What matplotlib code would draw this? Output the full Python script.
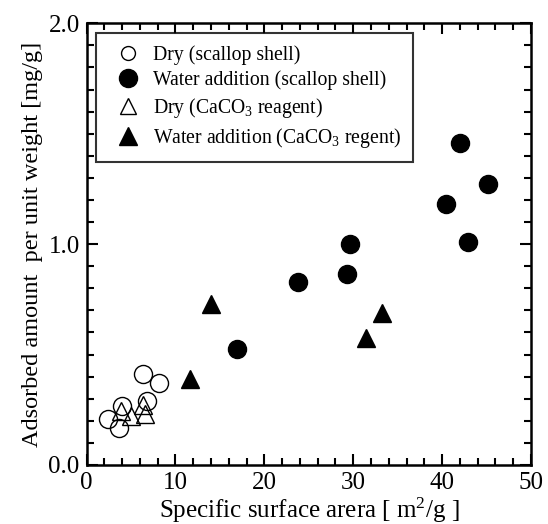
import matplotlib
matplotlib.use("Agg")
import matplotlib.pyplot as plt
from matplotlib.ticker import MultipleLocator, FormatStrFormatter

plt.rcParams['font.family'] = ['Liberation Serif', 'DejaVu Serif']
plt.rcParams['mathtext.fontset'] = 'custom'
plt.rcParams['mathtext.rm'] = 'Liberation Serif'
plt.rcParams['mathtext.it'] = 'Liberation Serif'

# 乾燥 (ホタテ貝殻)
dry_shell_x = [6.35, 8.1, 6.8, 4.0, 2.45, 3.6]
dry_shell_y = [0.41, 0.373, 0.288, 0.265, 0.208, 0.167]
# 加水 (ホタテ貝殻)
wet_shell_x = [16.9, 23.8, 29.3, 29.6, 40.4, 42.0, 42.9, 45.2]
wet_shell_y = [0.527, 0.83, 0.864, 1.0, 1.18, 1.458, 1.01, 1.27]
# 乾燥 (CaCO3 試薬)
dry_caco3_x = [3.9, 5.0, 6.4, 6.6]
dry_caco3_y = [0.245, 0.22, 0.27, 0.23]
# 加水 (CaCO3 試薬)
wet_caco3_x = [11.6, 14.0, 31.4, 33.2]
wet_caco3_y = [0.39, 0.727, 0.576, 0.69]

fig = plt.figure(figsize=(5.48, 5.24), dpi=100)
ax = fig.add_axes([0.158, 0.1126, 0.811, 0.843])

ms = 13
ax.plot(dry_shell_x, dry_shell_y, 'o', ms=ms, mfc='none', mec='black', mew=1.0,
        label='Dry (scallop shell)')
ax.plot(wet_shell_x, wet_shell_y, 'o', ms=ms, mfc='black', mec='black',
        label='Water addition (scallop shell)')
ax.plot(dry_caco3_x, dry_caco3_y, '^', ms=ms, mfc='none', mec='black', mew=1.0,
        label='Dry (CaCO$_3$ reagent)')
ax.plot(wet_caco3_x, wet_caco3_y, '^', ms=ms, mfc='black', mec='black',
        label='Water addition (CaCO$_3$ regent)')

ax.set_xlim(0, 50)
ax.set_ylim(0, 2.0)
ax.xaxis.set_major_locator(MultipleLocator(10))
ax.xaxis.set_minor_locator(MultipleLocator(2))
ax.yaxis.set_major_locator(MultipleLocator(1.0))
ax.yaxis.set_minor_locator(MultipleLocator(0.1))
ax.yaxis.set_major_formatter(FormatStrFormatter('%.1f'))

ax.tick_params(which='both', direction='in', top=True, right=True,
               labelsize=18, width=1.5)
ax.tick_params(which='major', length=8, pad=5)
ax.tick_params(which='minor', length=5)
for s in ax.spines.values():
    s.set_linewidth(1.8)

ax.set_xlabel('Specific surface arera [ m$^2$/g ]', fontsize=18, labelpad=1)
ax.set_ylabel('Adsorbed amount  per unit weight [mg/g]', fontsize=17.5, labelpad=4)

leg = ax.legend(loc='upper left', bbox_to_anchor=(0, 1), fontsize=14.2,
                frameon=True, fancybox=False, edgecolor='black',
                handlelength=2.0, handletextpad=0.25, borderpad=0.6,
                borderaxespad=0.5, labelspacing=0.3)
leg.get_frame().set_linewidth(1.5)
# 凡例のマーカーサイズ (白抜きは小さめ)
for h, s in zip(leg.legend_handles, [10, 13, 11, 13]):
    h.set_markersize(s)

fig.savefig('out.png', dpi=100)
